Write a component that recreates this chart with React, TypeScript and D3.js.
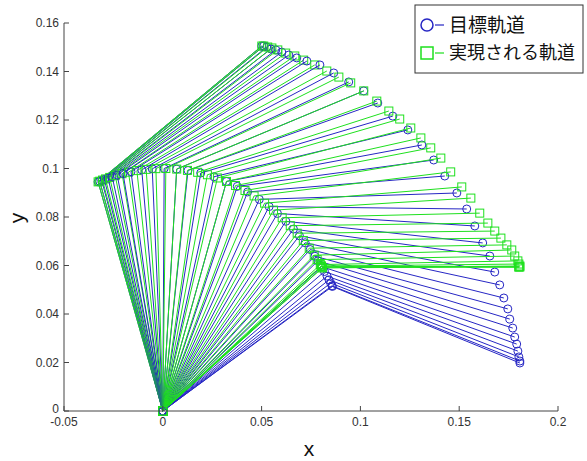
import React from "react";
import * as d3 from "d3";

// Arm link length (both links, metres)
const LINK = 0.1;

// Target trajectory (hand positions)
const targetHandX = [0.0501, 0.0511, 0.0526, 0.0547, 0.0572, 0.0602, 0.0638, 0.0678, 0.0729, 0.0795, 0.0865, 0.0941, 0.1017, 0.1088, 0.1164, 0.1240, 0.1311, 0.1371, 0.1427, 0.1488, 0.1538, 0.1579, 0.1619, 0.1655, 0.1680, 0.1705, 0.1726, 0.1746, 0.1756, 0.1771, 0.1781, 0.1791, 0.1797, 0.1802, 0.1807, 0.1807];
const targetHandY = [0.1505, 0.1505, 0.1501, 0.1493, 0.1489, 0.1480, 0.1468, 0.1456, 0.1443, 0.1427, 0.1394, 0.1357, 0.1320, 0.1270, 0.1216, 0.1159, 0.1097, 0.1035, 0.0969, 0.0899, 0.0833, 0.0763, 0.0693, 0.0639, 0.0573, 0.0520, 0.0466, 0.0421, 0.0379, 0.0342, 0.0305, 0.0276, 0.0247, 0.0223, 0.0206, 0.0198];

// Realized trajectory (hand positions)
const realHandX = [0.0501, 0.0511, 0.0531, 0.0552, 0.0582, 0.0622, 0.0668, 0.0713, 0.0769, 0.0830, 0.0891, 0.0951, 0.1017, 0.1083, 0.1144, 0.1199, 0.1255, 0.1306, 0.1356, 0.1407, 0.1457, 0.1513, 0.1559, 0.1604, 0.1645, 0.1680, 0.1711, 0.1741, 0.1766, 0.1781, 0.1797, 0.1802, 0.1807, 0.1807, 0.1802, 0.1802];
const realHandY = [0.1505, 0.1505, 0.1501, 0.1497, 0.1489, 0.1476, 0.1464, 0.1447, 0.1427, 0.1402, 0.1377, 0.1353, 0.1320, 0.1278, 0.1237, 0.1204, 0.1167, 0.1126, 0.1085, 0.1043, 0.0986, 0.0924, 0.0878, 0.0816, 0.0775, 0.0742, 0.0713, 0.0685, 0.0664, 0.0639, 0.0619, 0.0606, 0.0598, 0.0594, 0.0594, 0.0594];

const xTicks = [-0.05, 0, 0.05, 0.1, 0.15, 0.2];
const xTickLabels = ["-0.05", "0", "0.05", "0.1", "0.15", "0.2"];
const yTicks = [0, 0.02, 0.04, 0.06, 0.08, 0.1, 0.12, 0.14, 0.16];
const yTickLabels = ["0", "0.02", "0.04", "0.06", "0.08", "0.1", "0.12", "0.14", "0.16"];

const legendLabels = ["目標軌道", "実現される軌道"];

const BLUE = "#2626c4";
const GREEN = "#1ee01e";

function armPoints(hx: number, hy: number): [number, number][] {
  const r = Math.hypot(hx, hy);
  const c = Math.min(1, r / (2 * LINK));
  const a = Math.atan2(hy, hx) + Math.acos(c);
  return [
    [0, 0],
    [LINK * Math.cos(a), LINK * Math.sin(a)],
    [hx, hy],
  ];
}

export default function App() {
  const x = d3.scaleLinear().domain([-0.05, 0.2]).range([64, 558]);
  const y = d3.scaleLinear().domain([0, 0.16]).range([411, 23]);
  const line = d3
    .line<[number, number]>()
    .x((d) => x(d[0]))
    .y((d) => y(d[1]));

  const frames = targetHandX.map((_, i) => ({
    target: armPoints(targetHandX[i], targetHandY[i]),
    real: armPoints(realHandX[i], realHandY[i]),
  }));

  const tickFont = "'Liberation Sans', Arial, sans-serif";
  const cjk = "'Noto Sans CJK JP', sans-serif";

  return (
    <svg
      width={587}
      height={461}
      style={{ position: "absolute", left: 0, top: 0, background: "#fff" }}
    >
      <rect x={0} y={0} width={587} height={461} fill="#fff" />
      {frames.map((f, i) => (
        <g key={i}>
          <path d={line(f.target) || ""} fill="none" stroke={BLUE} strokeWidth={1} />
          {f.target.map((p, j) => (
            <circle key={j} cx={x(p[0])} cy={y(p[1])} r={4} fill="none" stroke={BLUE} strokeWidth={1} />
          ))}
          <path d={line(f.real) || ""} fill="none" stroke={GREEN} strokeWidth={1} />
          {f.real.map((p, j) => (
            <rect key={j} x={x(p[0]) - 4} y={y(p[1]) - 4} width={8} height={8} fill="none" stroke={GREEN} strokeWidth={1} />
          ))}
        </g>
      ))}

      {/* axes */}
      <g stroke="#444" strokeWidth={1} fill="none">
        <line x1={64} y1={y(0.16)} x2={64} y2={411} />
        <line x1={64} y1={411} x2={558} y2={411} />
        {yTicks.map((t, i) => (
          <line key={"yt" + i} x1={64} y1={y(t)} x2={69} y2={y(t)} />
        ))}
        {xTicks.map((t, i) => (
          <line key={"xt" + i} x1={x(t)} y1={411} x2={x(t)} y2={406} />
        ))}
      </g>
      <g fill="#333" fontFamily={tickFont} fontSize={12}>
        {yTicks.map((t, i) => (
          <text key={"yl" + i} x={59} y={y(t) - (i === 0 ? 2 : 0)} dy="0.35em" textAnchor="end">
            {yTickLabels[i]}
          </text>
        ))}
        {xTicks.map((t, i) => (
          <text key={"xl" + i} x={x(t)} y={426} textAnchor="middle">
            {xTickLabels[i]}
          </text>
        ))}
      </g>
      <text x={309} y={456} fontFamily={tickFont} fontSize={21} fill="#111" textAnchor="middle">
        x
      </text>
      <text
        transform="translate(24,218) rotate(-90)"
        fontFamily={tickFont}
        fontSize={21}
        fill="#111"
        textAnchor="middle"
      >
        y
      </text>

      {/* legend */}
      <rect x={415} y={5} width={168} height={68} fill="#fff" stroke="#333" strokeWidth={1} />
      <circle cx={427} cy={25} r={6} fill="none" stroke={BLUE} strokeWidth={1.5} />
      <line x1={435} y1={25} x2={444} y2={25} stroke={BLUE} strokeWidth={1.2} />
      <text x={449} y={25} dy="0.36em" fontFamily={cjk} fontSize={19} fill="#111">
        {legendLabels[0]}
      </text>
      <rect x={421} y={47} width={12} height={12} fill="none" stroke={GREEN} strokeWidth={1.5} />
      <line x1={435} y1={53} x2={444} y2={53} stroke={GREEN} strokeWidth={1.2} />
      <text x={449} y={53} dy="0.36em" fontFamily={cjk} fontSize={18} fill="#111">
        {legendLabels[1]}
      </text>
    </svg>
  );
}
